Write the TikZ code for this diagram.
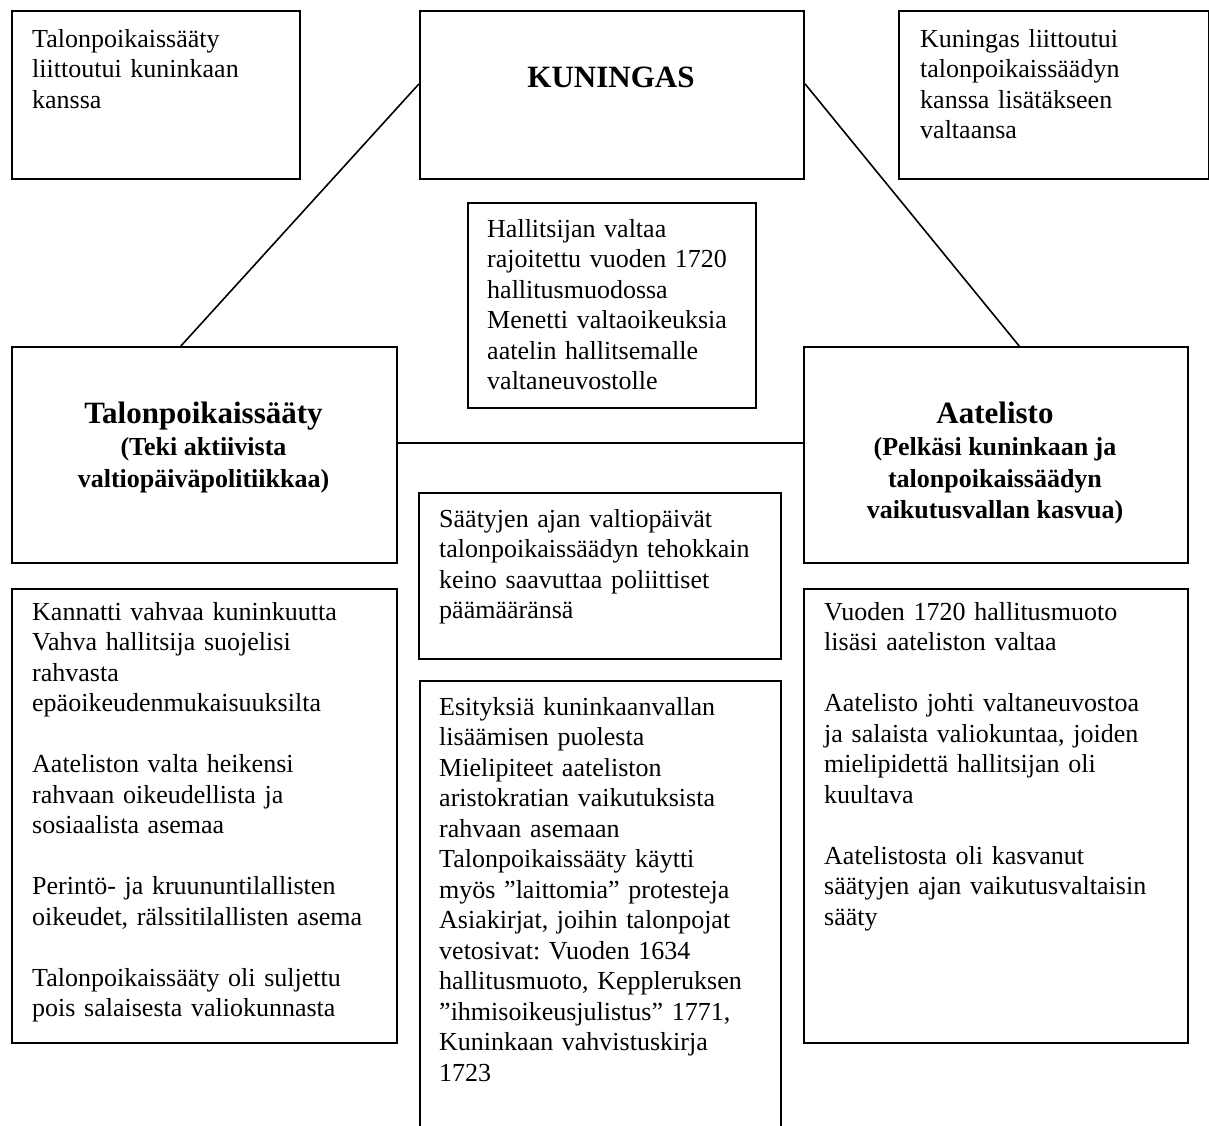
\documentclass[tikz,border=0pt]{standalone}
\usepackage{fontspec}
\setmainfont{Liberation Serif}
\usetikzlibrary{calc}
\frenchspacing
\begin{document}
\begin{tikzpicture}[x=1pt,y=-1pt,
  box/.style={draw=black, line width=2pt, inner sep=0pt, anchor=north west},
  conn/.style={draw=black, line width=1.6pt},
  txt/.style={anchor=north west, inner sep=0pt, text width=380pt, align=left, font=\fontsize{26}{30.5}\selectfont\frenchspacing},
  ttl/.style={anchor=base, inner sep=0pt, font=\fontsize{31}{34}\selectfont\bfseries},
  sub/.style={anchor=base, inner sep=0pt, font=\fontsize{26}{30.5}\selectfont\bfseries}]
\path[use as bounding box] (0,0) rectangle (1209,1126);
\clip (0,0) rectangle (1209,1126);

% boxes
\node[box, minimum width=288pt, minimum height=168pt] (tl) at (11,10) {};
\node[box, minimum width=384pt, minimum height=168pt] (kun) at (419,10) {};
\node[box, minimum width=310pt, minimum height=168pt] (tr) at (898,10) {};
\node[box, minimum width=288pt, minimum height=205pt] (hal) at (467,202) {};
\node[box, minimum width=385pt, minimum height=216pt] (talon) at (11,346) {};
\node[box, minimum width=384pt, minimum height=216pt] (aat) at (803,346) {};
\node[box, minimum width=362pt, minimum height=166pt] (saa) at (418,492) {};
\node[box, minimum width=385pt, minimum height=454pt] (ll) at (11,588) {};
\node[box, minimum width=384pt, minimum height=454pt] (lr) at (803,588) {};
\node[box, minimum width=361pt, minimum height=500pt] (esi) at (419,680) {};

% connectors
\draw[conn] ($(kun.north west)!0.4345!(kun.south west)$) -- ($(talon.north west)!0.439!(talon.north east)$);
\draw[conn] ($(kun.north east)!0.4345!(kun.south east)$) -- ($(aat.north west)!0.56!(aat.north east)$);
\draw[conn] ($(talon.north east)!0.444!(talon.south east)$) -- ($(aat.north west)!0.444!(aat.south west)$);

% titles
\node[ttl] (kunt) at (611,88) {KUNINGAS};
\node[ttl] (talont1) at (203.5,423) {Talonpoikaissääty};
\node[sub] (talont2) at (203.5,455) {(Teki aktiivista};
\node[sub] (talont3) at (203.5,487) {valtiopäiväpolitiikkaa)};
\node[ttl] (aatt1) at (995,423) {Aatelisto};
\node[sub] (aatt2) at (995,455) {(Pelkäsi kuninkaan ja};
\node[sub] (aatt3) at (995,487) {talonpoikaissäädyn};
\node[sub] (aatt4) at (995,518) {vaikutusvallan kasvua)};

% texts
\node[txt] (tlt) at (32,25.65) {\strut Talonpoikaissääty\\ liittoutui kuninkaan\\ kanssa};
\node[txt] (trt) at (920,25.65) {\strut Kuningas liittoutui\\ talonpoikaissäädyn\\ kanssa lisätäkseen\\ valtaansa};
\node[txt] (halt) at (487,215.65) {\strut Hallitsijan valtaa\\ rajoitettu vuoden 1720\\ hallitusmuodossa\\ Menetti valtaoikeuksia\\ aatelin hallitsemalle\\ valtaneuvostolle};
\node[txt] (saat) at (439,505.65) {\strut Säätyjen ajan valtiopäivät\\ talonpoikaissäädyn tehokkain\\ keino saavuttaa poliittiset\\ päämääränsä};
\node[txt] (esit) at (439,693.65) {\strut Esityksiä kuninkaanvallan\\ lisäämisen puolesta\\ Mielipiteet aateliston\\ aristokratian vaikutuksista\\ rahvaan asemaan\\ Talonpoikaissääty käytti\\ myös ”laittomia” protesteja\\ Asiakirjat, joihin talonpojat\\ vetosivat: Vuoden 1634\\ hallitusmuoto, Keppleruksen\\ ”ihmisoikeusjulistus” 1771,\\ Kuninkaan vahvistuskirja\\ 1723};
\node[txt] (llt) at (32,598.65) {\strut Kannatti vahvaa kuninkuutta\\ Vahva hallitsija suojelisi\\ rahvasta\\ epäoikeudenmukaisuuksilta\\[30.5pt] Aateliston valta heikensi\\ rahvaan oikeudellista ja\\ sosiaalista asemaa\\[30.5pt] Perintö- ja kruununtilallisten\\ oikeudet, rälssitilallisten asema\\[30.5pt] Talonpoikaissääty oli suljettu\\ pois salaisesta valiokunnasta};
\node[txt] (lrt) at (824,598.65) {\strut Vuoden 1720 hallitusmuoto\\ lisäsi aateliston valtaa\\[30.5pt] Aatelisto johti valtaneuvostoa\\ ja salaista valiokuntaa, joiden\\ mielipidettä hallitsijan oli\\ kuultava\\[30.5pt] Aatelistosta oli kasvanut\\ säätyjen ajan vaikutusvaltaisin\\ sääty};
\end{tikzpicture}
\end{document}
